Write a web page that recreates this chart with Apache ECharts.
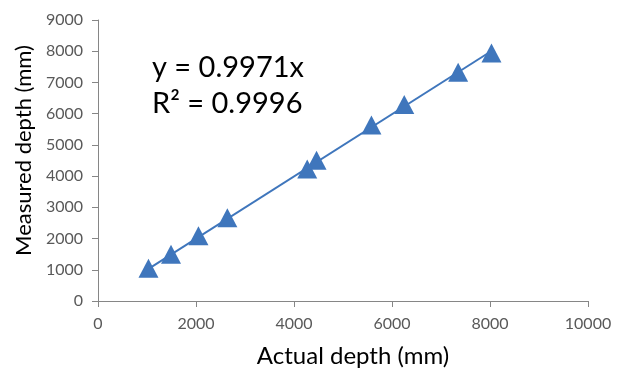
<!DOCTYPE html>
<html>
<head>
<meta charset="utf-8">
<script src="https://cdn.jsdelivr.net/npm/echarts@6/dist/echarts.min.js"></script>
<style>
  html, body { margin: 0; padding: 0; background: #fff; }
  #chart { width: 643px; height: 373px; }
</style>
</head>
<body>
<div id="chart"></div>
<script>
// actual vs measured depth (mm)
const actualDepth = [1030, 1490, 2050, 2640, 4270, 4460, 5580, 6250, 7350, 8030]
const measuredDepth = [1050, 1500, 2090, 2670, 4230, 4510, 5640, 6290, 7330, 7940]
const slope = 0.9971
const equationLines = ['y = 0.9971x', 'R² = 0.9996']

const points = actualDepth.map((x, i) => [x, measuredDepth[i]])
const xMin = Math.min(...actualDepth)
const xMax = Math.max(...actualDepth)
const trend = [[xMin, slope * xMin], [xMax, slope * xMax]]

const blue = '#3F76BC'
const axisGray = '#868686'
const labelGray = '#595959'
const font = 'Lato, "Open Sans", sans-serif'

const chart = echarts.init(document.getElementById('chart'))
chart.setOption({
  animation: false,
  grid: { left: 98, right: 55, top: 20, bottom: 66 },
  xAxis: {
    type: 'value',
    min: 0,
    max: 10000,
    interval: 2000,
    name: 'Actual depth (mm)',
    nameLocation: 'middle',
    nameGap: 43,
    nameTextStyle: { fontSize: 24, color: '#000', fontFamily: font, padding: [0, 0, 0, 20] },
    axisLine: { show: true, lineStyle: { color: axisGray, width: 1 } },
    axisTick: { show: true, length: 6, lineStyle: { color: axisGray } },
    axisLabel: { color: labelGray, fontSize: 16, fontFamily: font, margin: 15, formatter: (v) => String(v) },
    splitLine: { show: false }
  },
  yAxis: {
    type: 'value',
    min: 0,
    max: 9000,
    interval: 1000,
    name: 'Measured depth (mm)',
    nameLocation: 'middle',
    nameGap: 56,
    nameTextStyle: { fontSize: 22, color: '#000', fontFamily: font, padding: [0, 0, 0, 20] },
    axisLine: { show: true, lineStyle: { color: axisGray, width: 1 } },
    axisTick: { show: true, length: 6, lineStyle: { color: axisGray } },
    axisLabel: { color: labelGray, fontSize: 16, fontFamily: font, margin: 15, formatter: (v) => String(v) },
    splitLine: { show: false }
  },
  series: [
    {
      name: 'trend',
      type: 'line',
      data: trend,
      symbol: 'none',
      lineStyle: { color: blue, width: 2 },
      z: 2
    },
    {
      name: 'depth',
      type: 'scatter',
      data: points,
      symbol: 'triangle',
      symbolSize: [20, 19],
      itemStyle: { color: blue, opacity: 1 },
      z: 3
    }
  ],
  graphic: [
    {
      type: 'text',
      x: 152,
      y: 68,
      style: { text: equationLines[0], fontSize: 29, fill: '#000', fontFamily: font, verticalAlign: 'middle' }
    },
    {
      type: 'text',
      x: 152,
      y: 104,
      style: { text: equationLines[1], fontSize: 29, fill: '#000', fontFamily: font, verticalAlign: 'middle' }
    }
  ]
})
</script>
</body>
</html>
